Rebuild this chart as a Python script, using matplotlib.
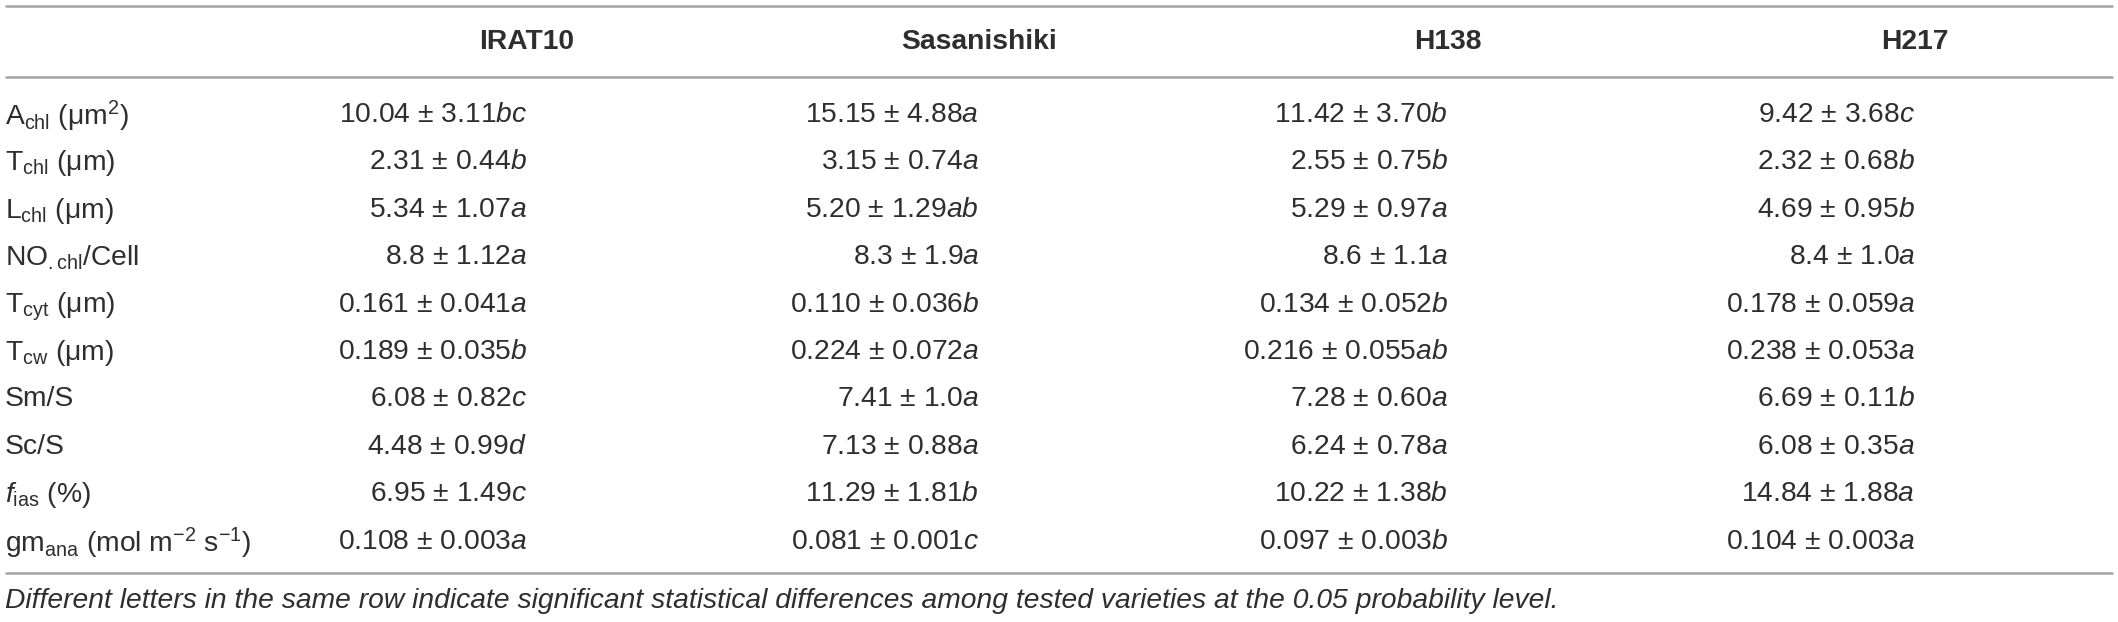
import matplotlib
matplotlib.use("Agg")
import matplotlib.pyplot as plt

plt.rcParams['font.family'] = ['Liberation Sans', 'DejaVu Sans']
plt.rcParams['mathtext.fontset'] = 'custom'
plt.rcParams['mathtext.rm'] = 'Liberation Sans'
plt.rcParams['mathtext.it'] = 'Liberation Sans:italic'
plt.rcParams['mathtext.bf'] = 'Liberation Sans:bold'

varieties = ["IRAT10", "Sasanishiki", "H138", "H217"]

row_labels = [
    r"A$_{\mathrm{chl}}$ (μm$^{2}$)",
    r"T$_{\mathrm{chl}}$ (μm)",
    r"L$_{\mathrm{chl}}$ (μm)",
    r"NO$_{\mathrm{.chl}}$/Cell",
    r"T$_{\mathrm{cyt}}$ (μm)",
    r"T$_{\mathrm{cw}}$ (μm)",
    "Sm/S",
    "Sc/S",
    r"$\mathit{f}_{\mathrm{ias}}$ (%)",
    r"gm$_{\mathrm{ana}}$ (mol m$^{-2}$ s$^{-1}$)",
]

irat10_mean = ["10.04", "2.31", "5.34", "8.8", "0.161", "0.189", "6.08", "4.48", "6.95", "0.108"]
irat10_sd = ["3.11", "0.44", "1.07", "1.12", "0.041", "0.035", "0.82", "0.99", "1.49", "0.003"]
irat10_sig = ["bc", "b", "a", "a", "a", "b", "c", "d", "c", "a"]

sasa_mean = ["15.15", "3.15", "5.20", "8.3", "0.110", "0.224", "7.41", "7.13", "11.29", "0.081"]
sasa_sd = ["4.88", "0.74", "1.29", "1.9", "0.036", "0.072", "1.0", "0.88", "1.81", "0.001"]
sasa_sig = ["a", "a", "ab", "a", "b", "a", "a", "a", "b", "c"]

h138_mean = ["11.42", "2.55", "5.29", "8.6", "0.134", "0.216", "7.28", "6.24", "10.22", "0.097"]
h138_sd = ["3.70", "0.75", "0.97", "1.1", "0.052", "0.055", "0.60", "0.78", "1.38", "0.003"]
h138_sig = ["b", "b", "a", "a", "b", "ab", "a", "a", "b", "b"]

h217_mean = ["9.42", "2.32", "4.69", "8.4", "0.178", "0.238", "6.69", "6.08", "14.84", "0.104"]
h217_sd = ["3.68", "0.68", "0.95", "1.0", "0.059", "0.053", "0.11", "0.35", "1.88", "0.003"]
h217_sig = ["c", "b", "b", "a", "a", "a", "b", "a", "a", "a"]

footnote = ("Different letters in the same row indicate significant statistical "
            "differences among tested varieties at the 0.05 probability level.")

columns = [
    (irat10_mean, irat10_sd, irat10_sig),
    (sasa_mean, sasa_sd, sasa_sig),
    (h138_mean, h138_sd, h138_sig),
    (h217_mean, h217_sd, h217_sig),
]

W, H = 2118, 622
fig = plt.figure(figsize=(W / 100, H / 100), dpi=100)
ax = fig.add_axes([0, 0, 1, 1])
ax.set_xlim(0, W)
ax.set_ylim(H, 0)
ax.axis('off')

txt = '#2e2e2e'
rule = '#a3a3a3'
fs = 20.3

col_x = [527, 979, 1448, 1915]
row_y0, row_dy = 112, 47.4

# rules
for y in (6, 77, 573):
    ax.plot([5, 2113], [y, y], color=rule, lw=1.8, solid_capstyle='butt')

# header
for name, x in zip(varieties, col_x):
    ax.text(x, 42, name, ha='center', va='center', fontsize=fs,
            fontweight='bold', color=txt)

# body
for i, label in enumerate(row_labels):
    y = row_y0 + i * row_dy
    ax.text(5, y, label, ha='left', va='center_baseline', fontsize=fs, color=txt)
    for (means, sds, sig), x in zip(columns, col_x):
        s = means[i] + " ± " + sds[i] + r"$\mathit{" + sig[i] + "}$"
        ax.text(x, y, s, ha='right', va='center_baseline', fontsize=fs, color=txt)

ax.text(5, 598, footnote, ha='left', va='center_baseline', fontsize=fs,
        style='italic', color=txt)

fig.savefig("out.png", dpi=100, facecolor='white')
